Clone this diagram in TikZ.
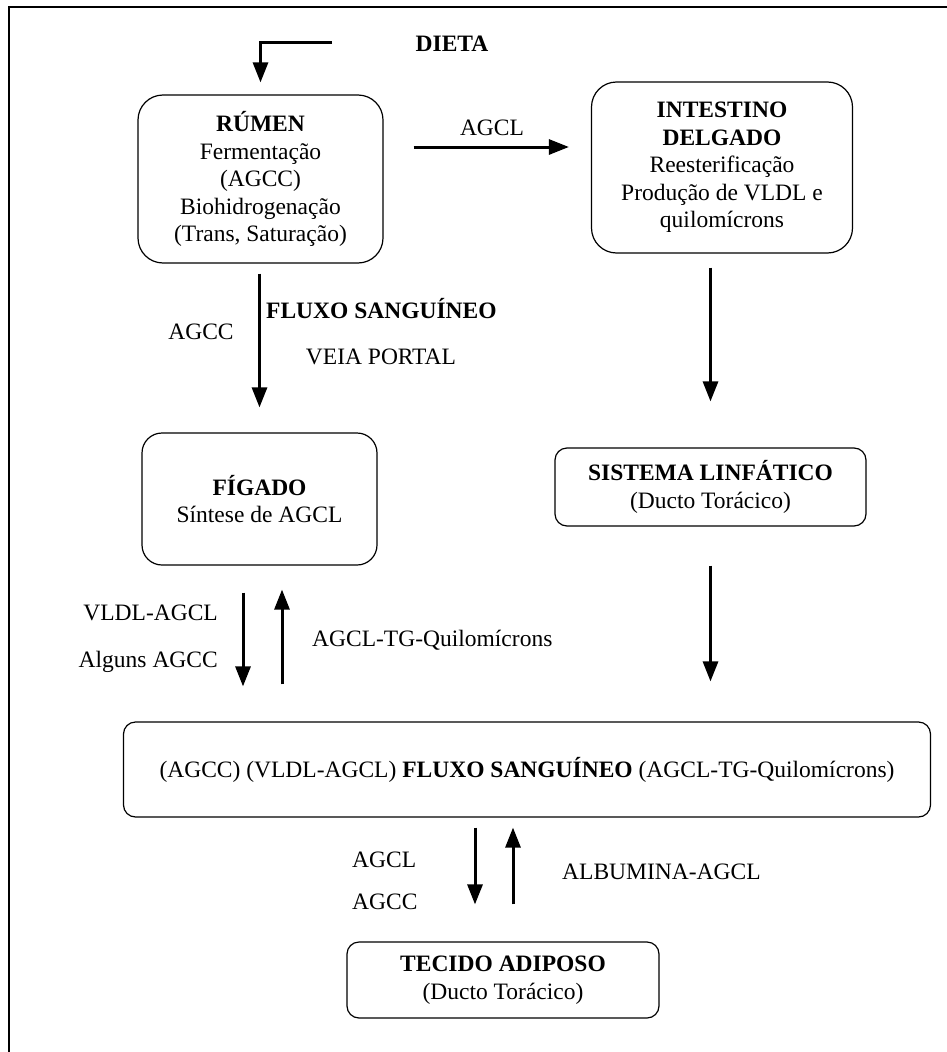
\documentclass[tikz,border=0pt]{standalone}
\usepackage{fontspec}
\setmainfont{Liberation Serif}
\usetikzlibrary{arrows.meta,calc}
\begin{document}
\begin{tikzpicture}[x=1pt,y=-1pt,
  txt/.style={font=\fontsize{23.5}{27.5}\selectfont},
  box/.style={txt, draw, line width=1.2pt, align=center, inner sep=0pt},
  lbl/.style={txt, inner sep=0pt},
  arr/.style={line width=3pt, -{Triangle[length=20pt,width=15pt]}},
]
\useasboundingbox (0,0) rectangle (947,1052);
\draw[line width=2.5pt] (9,1052) -- (9,7) -- (947,7);

% boxes
\node[box, rounded corners=25pt, minimum width=245pt, minimum height=168pt] (rumen) at (260.5,179)
  {\textbf{RÚMEN}\\Fermentação\\(AGCC)\\Biohidrogenação\\(Trans, Saturação)};
\node[box, rounded corners=25pt, minimum width=261pt, minimum height=171pt] (intestino) at (722,167.5)
  {\textbf{INTESTINO}\\\textbf{DELGADO}\\Reesterificação\\Produção de VLDL e\\quilomícrons};
\node[box, rounded corners=20pt, minimum width=235pt, minimum height=132pt] (figado) at (259.5,499)
  {\textbf{FÍGADO}\\Síntese de AGCL};
\node[box, rounded corners=12pt, minimum width=311pt, minimum height=78pt] (sistema) at (710.5,487)
  {\textbf{SISTEMA LINFÁTICO}\\(Ducto Torácico)};
\node[box, rounded corners=12pt, minimum width=807pt, minimum height=95pt] (sangue) at (527,769.5)
  {(AGCC) (VLDL-AGCL) \textbf{FLUXO SANGUÍNEO} (AGCL-TG-Quilomícrons)};
\node[box, rounded corners=12pt, minimum width=312pt, minimum height=76pt] (tecido) at (503,980)
  {\textbf{TECIDO ADIPOSO}\\(Ducto Torácico)};

% labels
\node[lbl] (dieta) at (452,44) {\textbf{DIETA}};
\node[lbl] (agcl1) at (492,128) {AGCL};
\node[lbl] (agcc1) at (201,332) {AGCC};
\node[lbl, anchor=west] (fluxo1) at (266,309) {\textbf{FLUXO SANGUÍNEO}};
\node[lbl] (veia) at (381,357) {VEIA PORTAL};
\node[lbl, anchor=east] (vldl) at (218,613) {VLDL-AGCL};
\node[lbl, anchor=east] (alguns) at (218,662) {Alguns AGCC};
\node[lbl, anchor=west] (tgq) at (312,640) {AGCL-TG-Quilomícrons};
\node[lbl, anchor=west] (agcl2) at (352,860) {AGCL};
\node[lbl, anchor=west] (agcc2) at (352,902) {AGCC};
\node[lbl, anchor=west] (alb) at (562,872) {ALBUMINA-AGCL};

% connectors
\coordinate (dstart) at (332,42);
\draw[arr, shorten >=12pt] (dstart) -| (rumen.north);
\draw[arr, shorten <=30pt, shorten >=22pt] ([yshift=32pt]rumen.east) -- ([yshift=32pt]rumen.east -| intestino.west);
\draw[arr, shorten <=10pt, shorten >=25pt] (rumen.south -| figado.north) -- (figado.north);
\draw[arr, shorten <=14pt, shorten >=46pt] (intestino.south -| sistema.north) -- (sistema.north);
\draw[arr, shorten <=27pt, shorten >=35pt] ($(figado.south)+(-16.5,0)$) -- ($(figado.south |- sangue.north)+(-16.5,0)$);
\draw[arr, shorten <=37pt, shorten >=24pt] ($(figado.south |- sangue.north)+(22.5,0)$) -- ($(figado.south)+(22.5,0)$);
\draw[arr, shorten <=39pt, shorten >=40pt] (sistema.south) -- (sistema.south |- sangue.north);
\draw[arr, shorten <=10pt, shorten >=37pt] ($(sangue.south -| tecido.north)+(-28,0)$) -- ($(tecido.north)+(-28,0)$);
\draw[arr, shorten <=37pt, shorten >=10pt] ($(tecido.north)+(10,0)$) -- ($(sangue.south -| tecido.north)+(10,0)$);
\end{tikzpicture}
\end{document}
